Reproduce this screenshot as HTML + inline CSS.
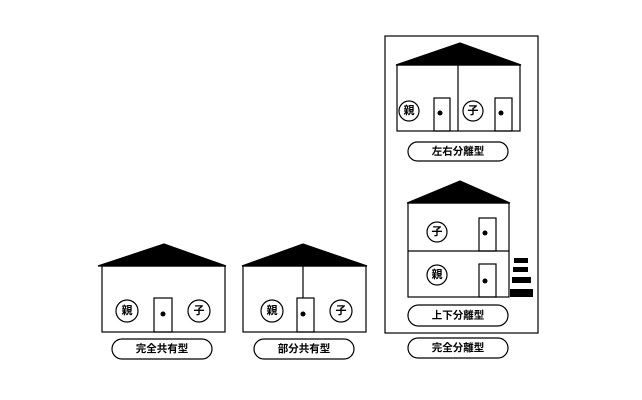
<!DOCTYPE html>
<html><head><meta charset="utf-8"><style>
html,body{margin:0;padding:0;background:#fff;}
svg{display:block;}
text{font-family:"Liberation Sans","Noto Sans CJK JP",sans-serif;font-weight:bold;font-size:10.5px;text-anchor:middle;dominant-baseline:central;fill:#000;}
.c text{font-size:11px;}
</style></head><body>
<svg width="642" height="400" viewBox="0 0 642 400" xmlns="http://www.w3.org/2000/svg">
<g fill="none" stroke="#000" stroke-width="1.2">
<!-- house 1 -->
<polygon points="98,266 164,244 226,266" fill="#000"/>
<rect x="102" y="266" width="123" height="66"/>
<rect x="154" y="298" width="18" height="34"/>
<circle cx="127" cy="311" r="11"/><circle cx="199" cy="311" r="11"/>
<rect x="112" y="339" width="100" height="20" rx="10"/>
<!-- house 2 -->
<polygon points="242,266 303,244 367,266" fill="#000"/>
<rect x="243" y="266" width="123" height="66"/>
<line x1="303" y1="266" x2="303" y2="298"/>
<rect x="297" y="298" width="17" height="34"/>
<circle cx="272" cy="311" r="11"/><circle cx="341" cy="311" r="11"/>
<rect x="254" y="339" width="100" height="20" rx="10"/>
<!-- frame -->
<rect x="385" y="36" width="153" height="297"/>
<!-- house 3 -->
<polygon points="396,65 460,43 521,65" fill="#000"/>
<rect x="397" y="65" width="123" height="66"/>
<line x1="458" y1="65" x2="458" y2="131"/>
<rect x="434" y="98" width="16" height="33"/>
<rect x="495" y="98" width="17" height="33"/>
<circle cx="409" cy="111" r="10"/><circle cx="473" cy="111" r="10"/>
<rect x="408" y="142" width="100" height="19" rx="9.5"/>
<!-- house 4 -->
<polygon points="407,203 460,181 510,203" fill="#000"/>
<rect x="408" y="203" width="101" height="94"/>
<line x1="408" y1="251" x2="509" y2="251"/>
<rect x="479" y="218" width="17" height="33"/>
<rect x="479" y="264" width="17" height="33"/>
<circle cx="437" cy="232" r="10"/><circle cx="437" cy="275" r="10"/>
<rect x="408" y="305" width="100" height="21" rx="10.5"/>
<rect x="408" y="338" width="100" height="20" rx="10"/>
</g>
<g fill="#000">
<circle cx="163" cy="314" r="2.5"/><circle cx="303" cy="314" r="2.5"/>
<circle cx="440" cy="113" r="2.5"/><circle cx="501" cy="113" r="2.5"/>
<circle cx="485" cy="233" r="2.5"/><circle cx="485" cy="281" r="2.5"/>
<rect x="514" y="258" width="14" height="5"/>
<rect x="513" y="267" width="15" height="5"/>
<rect x="512" y="277" width="19" height="6"/>
<rect x="510" y="289" width="23" height="8"/>
</g>
<g class="c">
<text x="127" y="311">親</text><text x="199" y="311">子</text>
<text x="272" y="311">親</text><text x="341" y="311">子</text>
<text x="409" y="111">親</text><text x="473" y="111">子</text>
<text x="437" y="232">子</text><text x="437" y="275">親</text>
</g>
<text x="162" y="349">完全共有型</text>
<text x="304" y="349">部分共有型</text>
<text x="458" y="151.5">左右分離型</text>
<text x="458" y="315.5">上下分離型</text>
<text x="458" y="348">完全分離型</text>
</svg>
</body></html>
